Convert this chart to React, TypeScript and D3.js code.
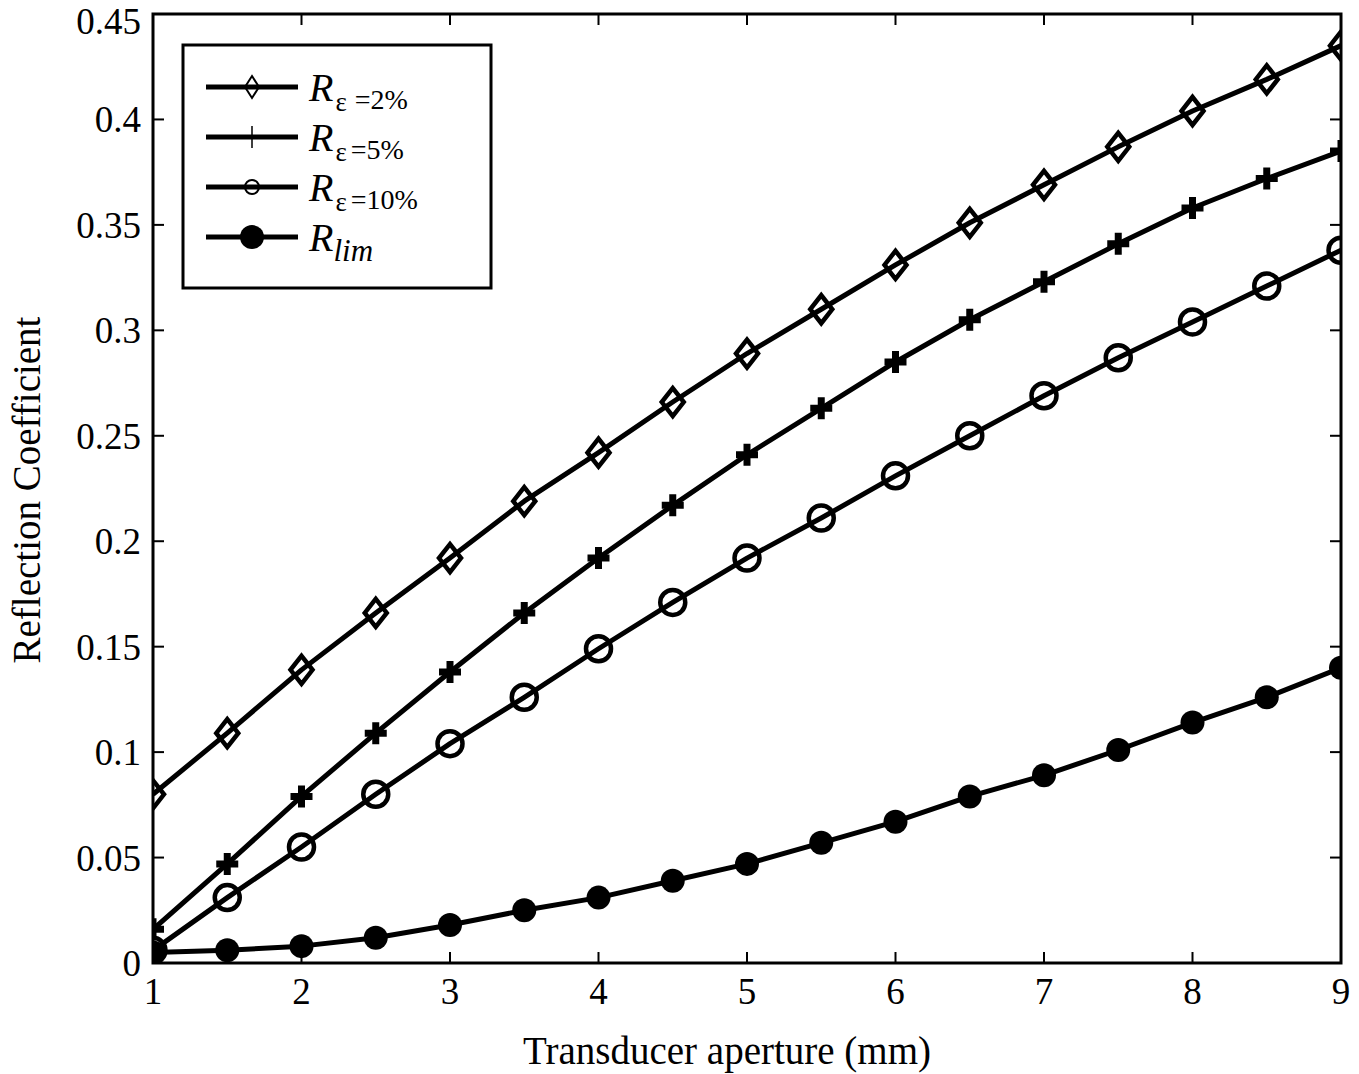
import React, { useEffect, useRef } from "react";
import * as d3 from "d3";

const apertures = [1, 1.5, 2, 2.5, 3, 3.5, 4, 4.5, 5, 5.5, 6, 6.5, 7, 7.5, 8, 8.5, 9];
const r2 = [0.08, 0.109, 0.139, 0.166, 0.192, 0.219, 0.242, 0.266, 0.289, 0.31, 0.331, 0.351, 0.369, 0.387, 0.404, 0.419, 0.435];
const r5 = [0.016, 0.047, 0.079, 0.109, 0.138, 0.166, 0.192, 0.217, 0.241, 0.263, 0.285, 0.305, 0.323, 0.341, 0.358, 0.372, 0.385];
const r10 = [0.006, 0.031, 0.055, 0.08, 0.104, 0.126, 0.149, 0.171, 0.192, 0.211, 0.231, 0.25, 0.269, 0.287, 0.304, 0.321, 0.338];
const rlim = [0.005, 0.006, 0.008, 0.012, 0.018, 0.025, 0.031, 0.039, 0.047, 0.057, 0.067, 0.079, 0.089, 0.101, 0.114, 0.126, 0.14];
const xTicks = [1, 2, 3, 4, 5, 6, 7, 8, 9];
const yTicks = [0, 0.05, 0.1, 0.15, 0.2, 0.25, 0.3, 0.35, 0.4, 0.45];
const seriesNames = ["=2%", "=5%", "=10%", "lim"];
const seriesMarkers = ["diamond", "plus", "circle", "dot"];

const W = 1359;
const H = 1074;
const font = "'Liberation Serif', 'Times New Roman', serif";

const App = () => {
  const svgRef = useRef<SVGSVGElement>(null);

  useEffect(() => {
    const svg = d3.select(svgRef.current);
    svg.selectAll("*").remove();

    const left = 153, right = 1341, top = 14, bottom = 963;
    const x = d3.scaleLinear().domain([1, 9]).range([left, right]);
    const y = d3.scaleLinear().domain([0, 0.45]).range([bottom, top]);

    svg.append("defs").append("clipPath").attr("id", "plotclip")
      .append("rect").attr("x", left).attr("y", top)
      .attr("width", right - left).attr("height", bottom - top);

    // ticks (inward, on all four sides)
    const tl = 11;
    const ax = svg.append("g").attr("stroke", "#000").attr("stroke-width", 2);
    xTicks.forEach((t) => {
      ax.append("line").attr("x1", x(t)).attr("x2", x(t)).attr("y1", bottom).attr("y2", bottom - tl);
      ax.append("line").attr("x1", x(t)).attr("x2", x(t)).attr("y1", top).attr("y2", top + tl);
    });
    yTicks.forEach((t) => {
      ax.append("line").attr("x1", left).attr("x2", left + tl).attr("y1", y(t)).attr("y2", y(t));
      ax.append("line").attr("x1", right).attr("x2", right - tl).attr("y1", y(t)).attr("y2", y(t));
    });

    // tick labels
    svg.append("g").selectAll("text").data(xTicks).enter().append("text")
      .attr("x", (d) => x(d)).attr("y", 1004)
      .attr("text-anchor", "middle")
      .style("font-family", font).style("font-size", "37px")
      .text((d) => d);
    svg.append("g").selectAll("text").data(yTicks).enter().append("text")
      .attr("x", 141).attr("y", (d) => Math.max(y(d) + 13, 34))
      .attr("text-anchor", "end")
      .style("font-family", font).style("font-size", "37px")
      .text((d) => (d === 0 ? "0" : String(d)));

    // axis titles
    svg.append("text").attr("x", 727).attr("y", 1064)
      .attr("text-anchor", "middle")
      .style("font-family", font).style("font-size", "39px")
      .text("Transducer aperture (mm)");
    svg.append("text")
      .attr("transform", "translate(40,490) rotate(-90)")
      .attr("text-anchor", "middle")
      .style("font-family", font).style("font-size", "39px")
      .text("Reflection Coefficient");

    const allSeries = [r2, r5, r10, rlim];
    const line = d3.line<number>().x((_, i) => x(apertures[i])).y((d) => y(d));

    const drawMarker = (g: any, kind: string, cx: number, cy: number, big: boolean) => {
      if (kind === "diamond") {
        const w = big ? 11 : 7, h = big ? 14 : 11;
        g.append("path")
          .attr("d", `M${cx},${cy - h}L${cx + w},${cy}L${cx},${cy + h}L${cx - w},${cy}Z`)
          .attr("fill", "none").attr("stroke", "#000").attr("stroke-width", big ? 4.5 : 2);
      } else if (kind === "plus") {
        const s = 11;
        g.append("path")
          .attr("d", `M${cx - s},${cy}H${cx + s}M${cx},${cy - s}V${cy + s}`)
          .attr("fill", "none").attr("stroke", "#000").attr("stroke-width", big ? 7 : 1.5);
      } else if (kind === "circle") {
        g.append("circle").attr("cx", cx).attr("cy", cy).attr("r", big ? 12.5 : 7)
          .attr("fill", "none").attr("stroke", "#000").attr("stroke-width", big ? 4.5 : 2);
      } else {
        g.append("circle").attr("cx", cx).attr("cy", cy).attr("r", 12).attr("fill", "#000");
      }
    };

    const plot = svg.append("g").attr("clip-path", "url(#plotclip)");
    allSeries.forEach((vals, si) => {
      plot.append("path").datum(vals).attr("d", line)
        .attr("fill", "none").attr("stroke", "#000").attr("stroke-width", 5)
        .attr("stroke-linejoin", "round");
      vals.forEach((v, i) => drawMarker(plot, seriesMarkers[si], x(apertures[i]), y(v), true));
    });

    // plot frame
    svg.append("rect").attr("x", left).attr("y", top)
      .attr("width", right - left).attr("height", bottom - top)
      .attr("fill", "none").attr("stroke", "#000").attr("stroke-width", 3);

    // legend
    const lg = svg.append("g");
    lg.append("rect").attr("x", 183).attr("y", 45).attr("width", 308).attr("height", 243)
      .attr("fill", "#fff").attr("stroke", "#000").attr("stroke-width", 3);
    seriesNames.forEach((name, i) => {
      const ly = 87 + i * 50;
      lg.append("line").attr("x1", 206).attr("x2", 298).attr("y1", ly).attr("y2", ly)
        .attr("stroke", "#000").attr("stroke-width", 5);
      drawMarker(lg, seriesMarkers[i], 252, ly, false);
      const t = lg.append("text").attr("x", 309).attr("y", ly + 14)
        .style("font-family", font).style("font-size", "40px");
      t.append("tspan").style("font-style", "italic").text("R");
      if (name === "lim") {
        t.append("tspan").attr("dy", 10).style("font-style", "italic")
          .style("font-size", "31px").text("lim");
      } else {
        t.append("tspan").attr("dy", 10).attr("dx", 2).style("font-size", "27px").text("ε");
        t.append("tspan").attr("dx", i === 0 ? 8 : 4).attr("dy", -2)
          .style("font-size", "28px").text(name);
      }
    });
  }, []);

  return (
    <svg
      ref={svgRef}
      width={W}
      height={H}
      style={{ position: "absolute", left: 0, top: 0, background: "#fff" }}
    />
  );
};

export default App;
